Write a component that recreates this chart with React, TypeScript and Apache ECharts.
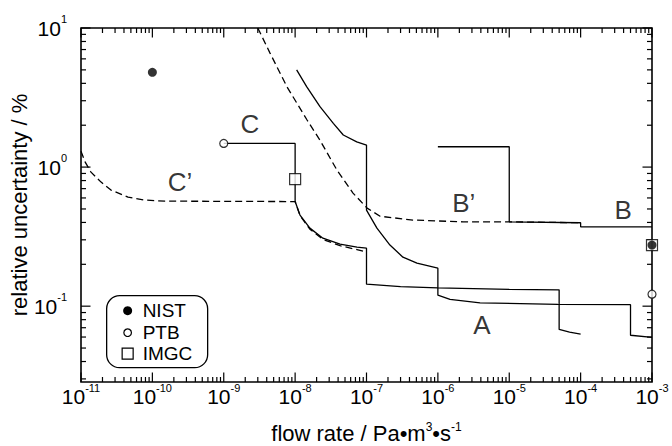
import React, { useEffect, useRef } from 'react';
import * as echarts from 'echarts';

const FONT = '"Liberation Sans", Arial, Helvetica, sans-serif';

// axis ranges
const X_MIN = 1e-11;
const X_MAX = 1e-3;
const Y_MIN = 0.0285;
const Y_MAX = 10;

// decades used for major / minor ticks
const xDecades = [1e-11, 1e-10, 1e-9, 1e-8, 1e-7, 1e-6, 1e-5, 1e-4, 1e-3];
const yDecades = [0.01, 0.1, 1, 10];
const minorSteps = [2, 3, 4, 5, 6, 7, 8, 9];

// curves (flow rate, relative uncertainty %)
const curveA: [number, number][] = [
  [1.05e-8, 5.0], [1.45e-8, 3.79], [2.23e-8, 2.72], [3.43e-8, 2.06], [4.73e-8, 1.7],
  [7.3e-8, 1.52], [1e-7, 1.44], [1e-7, 0.491], [1.4e-7, 0.364], [2.13e-7, 0.275],
  [3.24e-7, 0.225], [5.09e-7, 0.204], [1e-6, 0.1875], [1e-6, 0.12], [1.48e-6, 0.112],
  [3.9e-6, 0.1056], [4.8e-5, 0.103], [5e-4, 0.1025], [5e-4, 0.0618], [1e-3, 0.0596],
];
const curveB: [number, number][] = [
  [1e-6, 1.4], [1e-5, 1.4], [1e-5, 0.404], [1e-4, 0.398], [1e-4, 0.372], [1e-3, 0.372],
];
const curveBPrime: [number, number][] = [
  [3e-9, 10], [4.45e-9, 6.6], [7.7e-9, 3.77], [1.47e-8, 2.18], [2.23e-8, 1.56],
  [3.86e-8, 0.95], [6.47e-8, 0.65], [1.02e-7, 0.507], [1.55e-7, 0.443], [4.47e-7, 0.416],
  [2.25e-6, 0.404], [1e-5, 0.404], [1e-4, 0.398],
];
const curveC: [number, number][] = [
  [1e-9, 1.48], [1e-8, 1.48], [1e-8, 0.565], [1.17e-8, 0.452], [1.61e-8, 0.364],
  [2.45e-8, 0.308], [4.26e-8, 0.279], [7.36e-8, 0.266], [1e-7, 0.261], [1e-7, 0.144],
  [3e-7, 0.138], [1e-6, 0.1355], [1e-5, 0.132], [5e-5, 0.131], [5e-5, 0.068],
  [7e-5, 0.065], [1e-4, 0.063],
];
const curveCPrime: [number, number][] = [
  [1e-11, 1.3], [1.14e-11, 1.09], [1.38e-11, 0.92], [1.91e-11, 0.78], [2.63e-11, 0.684],
  [4.56e-11, 0.608], [7.9e-11, 0.579], [1.5e-10, 0.569], [1e-8, 0.565], [1.17e-8, 0.448],
  [1.61e-8, 0.358], [2.45e-8, 0.302], [4.26e-8, 0.272], [7.36e-8, 0.255], [1e-7, 0.245],
];

// reference points
const nistPoints: [number, number][] = [[1e-10, 4.8], [1e-3, 0.275]];
const ptbPoints: [number, number][] = [[1e-9, 1.48], [1e-3, 0.122]];
const imgcPoints: [number, number][] = [[1e-8, 0.82], [1e-3, 0.275]];

// curve labels
const curveLabels = [
  { name: 'A', value: [4.15e-6, 0.073] },
  { name: 'B', value: [3.93e-4, 0.491] },
  { name: 'B\u2019', value: [2.3e-6, 0.551] },
  { name: 'C', value: [2.33e-9, 2.04] },
  { name: 'C\u2019', value: [2.44e-10, 0.78] },
];

const legendItems = ['NIST', 'PTB', 'IMGC'];

function buildTicks() {
  const ticks: number[][] = [];
  xDecades.forEach((d) => {
    ticks.push([d, Y_MIN, 0, 1]);
    minorSteps.forEach((k) => {
      const v = d * k;
      if (v < X_MAX) ticks.push([v, Y_MIN, 0, 0]);
    });
  });
  yDecades.forEach((d) => {
    if (d >= Y_MIN && d <= Y_MAX) ticks.push([X_MIN, d, 1, 1]);
    minorSteps.forEach((k) => {
      const v = d * k;
      if (v > Y_MIN && v < Y_MAX) ticks.push([X_MIN, v, 1, 0]);
    });
  });
  return ticks;
}

function powLabel(v: number) {
  const e = Math.log10(v);
  const r = Math.round(e);
  if (Math.abs(e - r) > 1e-6) return '';
  return `{b|10}{s|${r}}`;
}

const labelRich = {
  b: { fontSize: 21, lineHeight: 21, fontFamily: FONT, color: '#000' },
  s: { fontSize: 11, lineHeight: 11, padding: [0, 0, 18, 0], fontFamily: FONT, color: '#000' },
};

export default function App() {
  const ref = useRef<HTMLDivElement>(null);
  useEffect(() => {
    if (!ref.current) return;
    const chart = echarts.init(ref.current, undefined, { renderer: 'svg' });
    const lineStyle = { color: '#000', width: 1.3 };
    const dashStyle = { color: '#000', width: 1.3, type: [7, 4] as any };
    const option: any = {
      animation: false,
      backgroundColor: '#fff',
      grid: {
        left: 81, top: 28, width: 571, height: 354,
        outerBoundsMode: 'none', containLabel: false,
        show: true, borderColor: '#000', borderWidth: 1.6, backgroundColor: 'transparent',
      },
      xAxis: {
        type: 'log', logBase: 10, min: X_MIN, max: X_MAX,
        axisLine: { show: false }, axisTick: { show: false }, splitLine: { show: false },
        axisLabel: { formatter: powLabel, rich: labelRich, margin: 4, interval: 0, color: '#000' },
        name: 'flow rate / Pa\u2022m{s|3}\u2022s{s|-1}',
        nameLocation: 'middle', nameGap: 40, nameMoveOverlap: false,
        nameTextStyle: {
          fontSize: 22, fontFamily: FONT, color: '#000',
          rich: { s: { fontSize: 12, lineHeight: 12, padding: [0, 0, 12, 0], fontFamily: FONT, color: '#000' } },
        },
      },
      yAxis: {
        type: 'log', logBase: 10, min: Y_MIN, max: Y_MAX,
        axisLine: { show: false }, axisTick: { show: false }, splitLine: { show: false },
        axisLabel: { formatter: powLabel, rich: labelRich, margin: 14, color: '#000' },
        name: 'relative uncertainty / %',
        nameLocation: 'middle', nameGap: 50, nameMoveOverlap: false,
        nameTextStyle: { fontSize: 22, lineHeight: 24, fontFamily: FONT, color: '#000' },
      },
      series: [
        {
          type: 'custom', name: 'ticks', data: buildTicks(), encode: { x: 0, y: 1 },
          silent: true, z: 1,
          renderItem: (params: any, api: any) => {
            const axis = api.value(2);
            const major = api.value(3);
            const len = major ? 9.5 : 5;
            const st = { stroke: '#000', lineWidth: 1.2 };
            if (axis === 0) {
              const x = api.value(0);
              const b = api.coord([x, Y_MIN]);
              const t = api.coord([x, Y_MAX]);
              return {
                type: 'group', children: [
                  { type: 'line', shape: { x1: b[0], y1: b[1], x2: b[0], y2: b[1] - len }, style: st },
                  { type: 'line', shape: { x1: t[0], y1: t[1], x2: t[0], y2: t[1] + len }, style: st },
                ],
              };
            }
            const y = api.value(1);
            const l = api.coord([X_MIN, y]);
            const r = api.coord([X_MAX, y]);
            return {
              type: 'group', children: [
                { type: 'line', shape: { x1: l[0], y1: l[1], x2: l[0] + len, y2: l[1] }, style: st },
                { type: 'line', shape: { x1: r[0], y1: r[1], x2: r[0] - len, y2: r[1] }, style: st },
              ],
            };
          },
        },
        { type: 'line', name: 'A', data: curveA, symbol: 'none', lineStyle, z: 2 },
        { type: 'line', name: 'B', data: curveB, symbol: 'none', lineStyle, z: 2 },
        { type: 'line', name: 'C', data: curveC, symbol: 'none', lineStyle, z: 2 },
        { type: 'line', name: 'B\u2019', data: curveBPrime, symbol: 'none', lineStyle: dashStyle, z: 2 },
        { type: 'line', name: 'C\u2019', data: curveCPrime, symbol: 'none', lineStyle: dashStyle, z: 2 },
        {
          type: 'scatter', name: 'IMGC', data: imgcPoints, symbol: 'rect', symbolSize: 11, clip: false, z: 3,
          itemStyle: { color: '#fff', borderColor: '#000', borderWidth: 1.2 },
        },
        {
          type: 'scatter', name: 'PTB', data: ptbPoints, symbol: 'circle', symbolSize: 8, clip: false, z: 4,
          itemStyle: { color: '#fff', borderColor: '#000', borderWidth: 1.2 },
        },
        {
          type: 'scatter', name: 'NIST', data: nistPoints, symbol: 'circle', symbolSize: 9, clip: false, z: 5,
          itemStyle: { color: '#000' },
        },
        {
          type: 'scatter', name: 'labels', data: curveLabels, symbolSize: 2, silent: true, z: 6,
          itemStyle: { color: 'rgba(0,0,0,0)' },
          label: {
            show: true, position: 'inside', formatter: '{b}',
            fontSize: 26, fontFamily: FONT, color: '#000',
          },
          labelLayout: { hideOverlap: false },
        },
      ],
      graphic: [
        {
          type: 'group', left: 106, top: 295,
          children: [
            { type: 'rect', shape: { x: 0, y: 0, width: 101, height: 72, r: 13 }, style: { fill: '#fff', stroke: '#000', lineWidth: 1.3 } },
            { type: 'circle', shape: { cx: 21, cy: 15, r: 4.5 }, style: { fill: '#000' } },
            { type: 'circle', shape: { cx: 21, cy: 37, r: 3.8 }, style: { fill: '#fff', stroke: '#000', lineWidth: 1.2 } },
            { type: 'rect', shape: { x: 15.5, y: 52.5, width: 11, height: 11 }, style: { fill: '#fff', stroke: '#000', lineWidth: 1.2 } },
            { type: 'text', x: 36, y: 15, style: { text: legendItems[0], fontSize: 19, fontFamily: FONT, fill: '#000', verticalAlign: 'middle' } },
            { type: 'text', x: 36, y: 37, style: { text: legendItems[1], fontSize: 19, fontFamily: FONT, fill: '#000', verticalAlign: 'middle' } },
            { type: 'text', x: 36, y: 58, style: { text: legendItems[2], fontSize: 19, fontFamily: FONT, fill: '#000', verticalAlign: 'middle' } },
          ],
        },
      ],
    };
    chart.setOption(option);
    return () => chart.dispose();
  }, []);
  return <div ref={ref} style={{ width: 672, height: 446, position: 'absolute', left: 0, top: 0 }} />;
}
